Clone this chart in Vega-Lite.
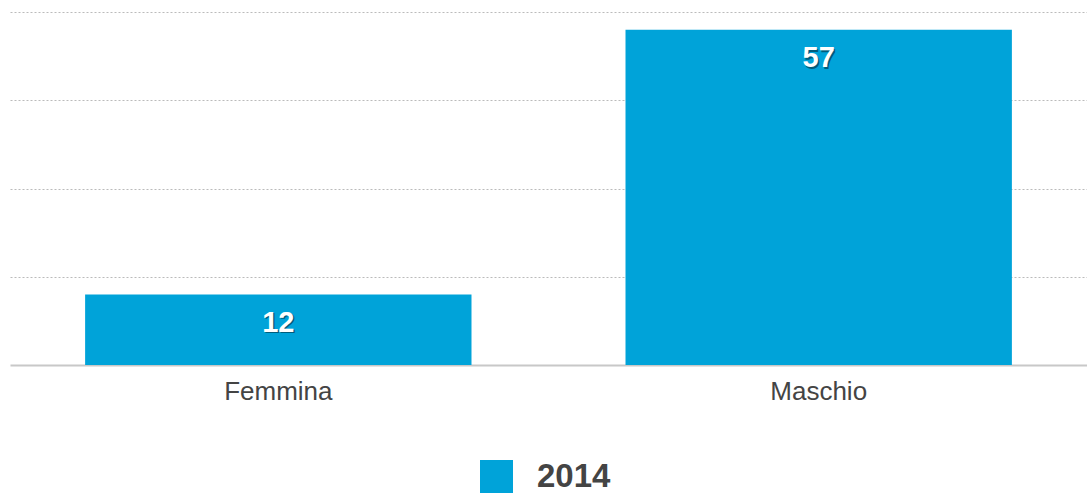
{
  "$schema": "https://vega.github.io/schema/vega-lite/v6.json",
  "width": 1077,
  "height": 353,
  "autosize": {"type": "none"},
  "padding": {"left": 10, "top": 12, "right": 0, "bottom": 133},
  "background": "white",
  "config": {
    "view": {"stroke": null},
    "font": "Liberation Sans"
  },
  "data": {
    "values": [
      {"sesso": "Femmina", "anno": "2014", "valore": 12},
      {"sesso": "Maschio", "anno": "2014", "valore": 57}
    ]
  },
  "encoding": {
    "x": {
      "field": "sesso",
      "type": "nominal",
      "scale": {"paddingInner": 0.285, "paddingOuter": 0.139},
      "axis": {
        "title": null,
        "labelAngle": 0,
        "labelFontSize": 26,
        "labelColor": "#444444",
        "labelPadding": 13,
        "ticks": false,
        "domainColor": "#c8c8c8",
        "domainWidth": 2,
        "grid": false
      }
    },
    "y": {
      "field": "valore",
      "type": "quantitative",
      "scale": {"domain": [0, 60], "nice": false},
      "axis": {
        "title": null,
        "labels": false,
        "ticks": false,
        "domain": false,
        "values": [15, 30, 45, 60],
        "grid": true,
        "gridColor": "#bbbbbb",
        "gridDash": [2, 2],
        "gridWidth": 1
      }
    }
  },
  "layer": [
    {
      "mark": {"type": "bar", "color": "#00A3D9"},
      "encoding": {
        "color": {
          "field": "anno",
          "type": "nominal",
          "scale": {"range": ["#00A3D9"]},
          "legend": {
            "title": null,
            "orient": "none",
            "legendX": 470,
            "legendY": 448,
            "padding": 0,
            "symbolType": "square",
            "symbolSize": 1089,
            "symbolStrokeWidth": 0,
            "symbolOpacity": 1,
            "labelFontSize": 33,
            "labelFontWeight": "bold",
            "labelColor": "#444444",
            "labelOffset": 24
          }
        }
      }
    },
    {
      "mark": {"type": "text", "baseline": "middle", "align": "center", "dy": 30, "dx": 1.5, "fontSize": 29, "fontWeight": "bold", "color": "#003040", "opacity": 0.6},
      "encoding": {"text": {"field": "valore", "type": "quantitative"}}
    },
    {
      "mark": {"type": "text", "baseline": "middle", "align": "center", "dy": 28.5, "fontSize": 29, "fontWeight": "bold", "color": "white"},
      "encoding": {"text": {"field": "valore", "type": "quantitative"}}
    }
  ]
}
